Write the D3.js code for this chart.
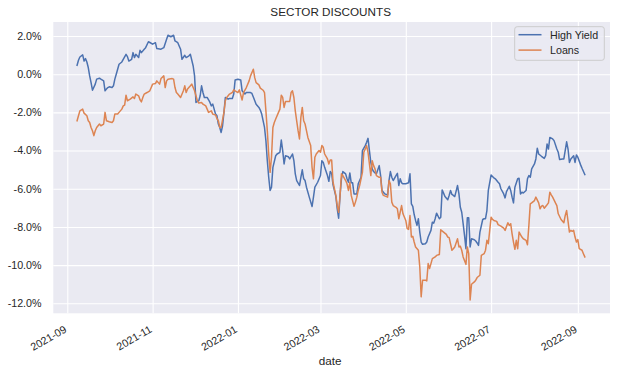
<!DOCTYPE html>
<html>
<head>
<meta charset="utf-8">
<script src="https://cdn.jsdelivr.net/npm/d3@7"></script>
<style>
  html, body { margin: 0; padding: 0; background: #ffffff; }
  svg { display: block; }
  text { font-family: "Liberation Sans", Arial, sans-serif; fill: #262626; }
</style>
</head>
<body>
<svg id="chart" width="622" height="374"></svg>
<script>
// ---------------- data ----------------
const chartTitle = "SECTOR DISCOUNTS";
const xLabel = "date";
const seriesNames = ["High Yield", "Loans"];
const seriesColors = ["#4C72B0", "#DD8452"];

const hyDates = ["2021-09-08","2021-09-09","2021-09-10","2021-09-12","2021-09-13","2021-09-14","2021-09-15","2021-09-16","2021-09-17","2021-09-18","2021-09-19","2021-09-21","2021-09-22","2021-09-24","2021-09-25","2021-09-27","2021-09-28","2021-09-29","2021-09-30","2021-10-01","2021-10-03","2021-10-04","2021-10-05","2021-10-06","2021-10-08","2021-10-10","2021-10-11","2021-10-13","2021-10-14","2021-10-15","2021-10-17","2021-10-18","2021-10-19","2021-10-20","2021-10-22","2021-10-23","2021-10-24","2021-10-26","2021-10-27","2021-10-29","2021-10-31","2021-11-01","2021-11-03","2021-11-04","2021-11-07","2021-11-09","2021-11-11","2021-11-12","2021-11-14","2021-11-16","2021-11-17","2021-11-19","2021-11-21","2021-11-22","2021-11-24","2021-11-25","2021-11-27","2021-11-28","2021-11-30","2021-12-01","2021-12-02","2021-12-04","2021-12-05","2021-12-06","2021-12-07","2021-12-08","2021-12-10","2021-12-11","2021-12-12","2021-12-13","2021-12-14","2021-12-16","2021-12-17","2021-12-18","2021-12-19","2021-12-20","2021-12-21","2021-12-22","2021-12-23","2021-12-25","2021-12-26","2021-12-28","2021-12-29","2021-12-30","2022-01-01","2022-01-03","2022-01-04","2022-01-06","2022-01-07","2022-01-10","2022-01-11","2022-01-12","2022-01-14","2022-01-16","2022-01-17","2022-01-18","2022-01-20","2022-01-21","2022-01-22","2022-01-23","2022-01-24","2022-01-25","2022-01-26","2022-01-28","2022-01-29","2022-01-31","2022-02-01","2022-02-02","2022-02-03","2022-02-04","2022-02-06","2022-02-07","2022-02-09","2022-02-10","2022-02-11","2022-02-12","2022-02-14","2022-02-15","2022-02-16","2022-02-17","2022-02-18","2022-02-19","2022-02-21","2022-02-23","2022-02-24","2022-02-25","2022-02-27","2022-03-01","2022-03-02","2022-03-03","2022-03-04","2022-03-06","2022-03-07","2022-03-08","2022-03-09","2022-03-10","2022-03-12","2022-03-13","2022-03-14","2022-03-15","2022-03-16","2022-03-17","2022-03-19","2022-03-20","2022-03-21","2022-03-22","2022-03-23","2022-03-24","2022-03-25","2022-03-27","2022-03-28","2022-03-30","2022-03-31","2022-04-02","2022-04-03","2022-04-04","2022-04-05","2022-04-06","2022-04-07","2022-04-08","2022-04-09","2022-04-10","2022-04-12","2022-04-13","2022-04-14","2022-04-15","2022-04-16","2022-04-18","2022-04-19","2022-04-20","2022-04-21","2022-04-22","2022-04-24","2022-04-25","2022-04-26","2022-04-27","2022-04-28","2022-04-29","2022-05-01","2022-05-03","2022-05-04","2022-05-05","2022-05-06","2022-05-07","2022-05-08","2022-05-09","2022-05-10","2022-05-11","2022-05-12","2022-05-13","2022-05-15","2022-05-16","2022-05-17","2022-05-19","2022-05-20","2022-05-21","2022-05-22","2022-05-23","2022-05-25","2022-05-26","2022-05-27","2022-05-28","2022-05-29","2022-05-31","2022-06-01","2022-06-02","2022-06-03","2022-06-04","2022-06-05","2022-06-07","2022-06-08","2022-06-09","2022-06-10","2022-06-11","2022-06-12","2022-06-13","2022-06-14","2022-06-15","2022-06-16","2022-06-17","2022-06-19","2022-06-20","2022-06-21","2022-06-22","2022-06-23","2022-06-25","2022-06-26","2022-06-27","2022-06-28","2022-06-29","2022-07-01","2022-07-02","2022-07-03","2022-07-04","2022-07-06","2022-07-07","2022-07-08","2022-07-10","2022-07-11","2022-07-12","2022-07-14","2022-07-15","2022-07-16","2022-07-17","2022-07-18","2022-07-20","2022-07-21","2022-07-22","2022-07-23","2022-07-24","2022-07-26","2022-07-27","2022-07-28","2022-07-29","2022-07-30","2022-08-01","2022-08-02","2022-08-03","2022-08-04","2022-08-06","2022-08-08","2022-08-09","2022-08-10","2022-08-11","2022-08-12","2022-08-14","2022-08-15","2022-08-17","2022-08-18","2022-08-19","2022-08-21","2022-08-22","2022-08-24","2022-08-25","2022-08-26","2022-08-27","2022-08-29","2022-08-30","2022-08-31","2022-09-01","2022-09-03","2022-09-04","2022-09-06"];
const hyValues = [0.47,0.73,0.90,1.01,0.69,0.82,0.64,0.35,-0.09,-0.44,-0.84,-0.52,-0.26,-0.21,-0.26,-0.35,-0.87,-0.78,-0.70,-0.66,-0.70,-0.61,-0.26,0.00,0.52,0.64,0.78,1.04,0.92,0.69,0.78,1.13,0.87,1.04,0.87,1.25,1.13,1.31,1.39,1.70,1.62,1.57,1.65,1.34,1.31,1.39,1.83,2.04,1.96,2.04,1.74,1.65,1.31,0.78,0.99,0.87,0.96,1.04,0.43,-0.09,-1.48,-1.39,-1.13,-0.61,-0.96,-1.22,-1.22,-1.34,-1.48,-1.66,-1.57,-2.09,-2.18,-2.61,-2.79,-3.05,-2.70,-2.00,-1.22,-1.31,-1.27,-1.27,-1.04,-0.30,-0.26,-0.30,-0.87,-1.04,-0.96,-0.96,-1.01,-1.19,-1.57,-1.74,-1.88,-2.09,-2.79,-3.48,-4.53,-5.40,-6.09,-5.92,-4.88,-4.27,-4.18,-4.09,-3.45,-4.00,-4.70,-4.27,-4.32,-4.44,-4.18,-4.53,-5.22,-5.57,-5.83,-5.40,-5.01,-5.48,-5.57,-5.92,-6.44,-6.93,-6.44,-5.92,-5.66,-5.31,-4.53,-4.62,-4.88,-5.31,-5.61,-5.10,-5.20,-5.80,-6.40,-7.05,-7.54,-6.35,-5.48,-5.10,-5.22,-5.48,-5.66,-5.17,-5.69,-5.69,-6.27,-6.27,-5.74,-5.40,-4.00,-3.74,-3.57,-3.36,-4.00,-4.62,-4.96,-5.10,-5.17,-5.22,-4.79,-5.31,-6.09,-6.18,-6.27,-6.33,-5.57,-5.10,-5.40,-5.57,-5.31,-5.19,-5.83,-5.48,-5.69,-5.74,-5.74,-5.69,-5.22,-6.79,-6.92,-7.35,-7.66,-7.92,-7.57,-8.27,-8.79,-8.91,-8.88,-8.79,-8.53,-8.18,-7.75,-7.80,-7.57,-7.28,-7.57,-7.49,-6.06,-6.23,-6.41,-6.58,-6.35,-6.09,-6.30,-6.35,-6.41,-5.83,-6.27,-6.97,-7.23,-7.83,-8.44,-9.14,-7.52,-7.52,-9.05,-8.62,-8.67,-8.74,-8.84,-8.97,-8.27,-7.61,-7.57,-7.57,-7.14,-6.09,-5.28,-5.36,-5.43,-5.48,-5.66,-5.74,-6.00,-6.27,-6.48,-6.15,-5.87,-6.09,-6.44,-6.74,-5.92,-5.48,-5.45,-6.27,-6.18,-6.22,-6.09,-5.48,-5.31,-5.40,-4.96,-4.70,-4.44,-3.88,-4.18,-4.30,-4.41,-4.27,-3.66,-3.92,-3.31,-3.39,-3.48,-3.92,-4.09,-4.47,-4.44,-4.44,-3.54,-3.92,-4.62,-4.44,-4.27,-4.62,-4.23,-4.35,-4.75,-4.93,-5.26];

const loanDates = ["2021-09-08","2021-09-09","2021-09-10","2021-09-12","2021-09-13","2021-09-15","2021-09-16","2021-09-17","2021-09-18","2021-09-19","2021-09-20","2021-09-21","2021-09-22","2021-09-24","2021-09-25","2021-09-27","2021-09-28","2021-09-29","2021-10-01","2021-10-03","2021-10-04","2021-10-05","2021-10-07","2021-10-08","2021-10-10","2021-10-11","2021-10-12","2021-10-13","2021-10-14","2021-10-16","2021-10-18","2021-10-19","2021-10-20","2021-10-22","2021-10-23","2021-10-24","2021-10-25","2021-10-26","2021-10-28","2021-10-30","2021-10-31","2021-11-01","2021-11-03","2021-11-04","2021-11-06","2021-11-07","2021-11-09","2021-11-10","2021-11-11","2021-11-12","2021-11-15","2021-11-16","2021-11-17","2021-11-18","2021-11-19","2021-11-21","2021-11-23","2021-11-24","2021-11-25","2021-11-26","2021-11-28","2021-11-29","2021-11-30","2021-12-01","2021-12-02","2021-12-03","2021-12-04","2021-12-06","2021-12-07","2021-12-09","2021-12-10","2021-12-11","2021-12-13","2021-12-14","2021-12-16","2021-12-17","2021-12-18","2021-12-19","2021-12-20","2021-12-22","2021-12-23","2021-12-24","2021-12-25","2021-12-26","2021-12-28","2021-12-29","2021-12-30","2022-01-01","2022-01-02","2022-01-04","2022-01-05","2022-01-07","2022-01-09","2022-01-10","2022-01-12","2022-01-13","2022-01-14","2022-01-16","2022-01-17","2022-01-19","2022-01-20","2022-01-21","2022-01-22","2022-01-23","2022-01-24","2022-01-25","2022-01-26","2022-01-27","2022-01-28","2022-01-30","2022-01-31","2022-02-01","2022-02-02","2022-02-03","2022-02-04","2022-02-06","2022-02-07","2022-02-08","2022-02-09","2022-02-10","2022-02-11","2022-02-12","2022-02-13","2022-02-14","2022-02-15","2022-02-16","2022-02-17","2022-02-18","2022-02-19","2022-02-20","2022-02-22","2022-02-23","2022-02-24","2022-02-25","2022-02-26","2022-02-28","2022-03-01","2022-03-02","2022-03-03","2022-03-04","2022-03-06","2022-03-07","2022-03-08","2022-03-09","2022-03-10","2022-03-12","2022-03-13","2022-03-14","2022-03-15","2022-03-16","2022-03-17","2022-03-19","2022-03-20","2022-03-21","2022-03-22","2022-03-23","2022-03-25","2022-03-26","2022-03-27","2022-03-28","2022-03-29","2022-03-31","2022-04-01","2022-04-02","2022-04-03","2022-04-04","2022-04-06","2022-04-07","2022-04-08","2022-04-09","2022-04-10","2022-04-12","2022-04-13","2022-04-14","2022-04-15","2022-04-18","2022-04-19","2022-04-20","2022-04-21","2022-04-22","2022-04-24","2022-04-25","2022-04-26","2022-04-27","2022-04-28","2022-04-29","2022-05-01","2022-05-02","2022-05-03","2022-05-04","2022-05-05","2022-05-06","2022-05-07","2022-05-08","2022-05-10","2022-05-11","2022-05-12","2022-05-13","2022-05-15","2022-05-16","2022-05-17","2022-05-18","2022-05-19","2022-05-20","2022-05-22","2022-05-23","2022-05-25","2022-05-26","2022-05-28","2022-05-30","2022-05-31","2022-06-01","2022-06-03","2022-06-04","2022-06-05","2022-06-07","2022-06-08","2022-06-09","2022-06-10","2022-06-11","2022-06-13","2022-06-14","2022-06-15","2022-06-16","2022-06-17","2022-06-19","2022-06-20","2022-06-21","2022-06-23","2022-06-24","2022-06-26","2022-06-27","2022-06-28","2022-06-29","2022-07-01","2022-07-02","2022-07-03","2022-07-05","2022-07-06","2022-07-08","2022-07-10","2022-07-11","2022-07-13","2022-07-14","2022-07-15","2022-07-16","2022-07-17","2022-07-18","2022-07-19","2022-07-20","2022-07-21","2022-07-23","2022-07-24","2022-07-26","2022-07-27","2022-07-28","2022-07-29","2022-07-30","2022-08-01","2022-08-02","2022-08-04","2022-08-05","2022-08-06","2022-08-07","2022-08-08","2022-08-10","2022-08-11","2022-08-12","2022-08-13","2022-08-14","2022-08-16","2022-08-17","2022-08-18","2022-08-20","2022-08-22","2022-08-23","2022-08-24","2022-08-26","2022-08-27","2022-08-28","2022-08-29","2022-08-30","2022-08-31","2022-09-01","2022-09-02","2022-09-04","2022-09-05","2022-09-06"];
const loanValues = [-2.44,-2.18,-1.92,-1.83,-2.04,-2.18,-2.44,-2.53,-2.79,-2.96,-3.22,-2.96,-2.79,-2.61,-2.70,-2.61,-2.00,-2.44,-2.49,-2.53,-2.44,-2.09,-2.09,-2.00,-1.83,-1.66,-1.62,-1.10,-1.39,-1.31,-1.19,-1.27,-1.04,-1.13,-1.34,-1.45,-1.22,-1.04,-0.96,-0.87,-0.70,-0.52,-0.49,-0.35,-0.52,-0.23,-0.09,-0.70,-0.35,-0.26,-0.23,-0.26,-0.70,-0.96,-1.04,-1.22,-0.87,-0.61,-0.96,-0.78,-0.61,-0.52,-0.70,-0.87,-1.13,-1.39,-1.51,-1.48,-1.57,-1.66,-1.83,-2.00,-1.92,-2.09,-2.14,-2.32,-2.44,-2.79,-2.79,-2.00,-1.39,-1.22,-1.13,-1.04,-0.96,-0.82,-0.87,-0.96,-0.82,-1.35,-0.96,-0.70,-0.35,-0.09,0.26,-0.18,-0.44,-0.56,-0.73,-0.84,-0.96,-1.92,-2.96,-4.18,-5.14,-4.35,-2.79,-2.53,-2.35,-2.00,-1.83,-1.10,-1.22,-1.74,-1.43,-1.43,-1.43,-0.96,-0.87,-1.22,-1.92,-2.44,-2.96,-3.39,-2.26,-1.74,-2.44,-2.61,-2.96,-3.31,-3.74,-4.88,-5.48,-4.35,-4.18,-4.00,-4.09,-3.74,-3.83,-4.18,-4.44,-4.70,-4.50,-4.50,-5.66,-6.35,-6.88,-7.23,-6.35,-5.22,-5.31,-5.57,-5.74,-6.09,-5.66,-6.35,-6.92,-6.70,-6.44,-6.09,-5.83,-5.14,-4.09,-3.92,-3.74,-4.09,-5.31,-4.53,-4.79,-4.96,-5.31,-5.40,-5.40,-6.18,-6.35,-6.44,-5.57,-5.74,-6.70,-6.88,-6.97,-7.05,-7.57,-7.23,-6.88,-7.31,-7.66,-8.09,-8.13,-7.40,-8.53,-8.49,-8.79,-9.05,-9.22,-10.09,-11.66,-10.79,-10.79,-10.83,-9.92,-10.18,-9.92,-9.66,-9.57,-9.49,-9.44,-8.15,-8.27,-8.39,-8.53,-8.56,-9.22,-9.14,-9.05,-8.62,-9.05,-9.01,-9.22,-9.57,-9.96,-9.05,-9.40,-11.83,-11.00,-10.88,-10.79,-10.65,-10.53,-9.49,-9.40,-9.22,-8.70,-8.88,-7.49,-7.61,-7.66,-7.71,-7.88,-7.96,-8.06,-8.18,-7.78,-7.92,-7.83,-8.36,-8.79,-9.17,-8.70,-9.14,-8.27,-8.53,-8.62,-8.70,-8.93,-7.92,-6.79,-6.74,-6.62,-6.44,-6.74,-7.05,-6.91,-6.88,-7.02,-6.84,-6.74,-6.18,-6.32,-6.44,-6.74,-6.88,-7.31,-7.61,-7.78,-7.40,-7.14,-8.27,-8.18,-8.23,-8.18,-8.53,-8.79,-8.66,-9.14,-9.22,-9.40,-9.57];

const xTickDates = ["2021-09-01","2021-11-01","2022-01-01","2022-03-01","2022-05-01","2022-07-01","2022-09-01"];
const xTickLabels = ["2021-09","2021-11","2022-01","2022-03","2022-05","2022-07","2022-09"];
const yTickValues = [2, 0, -2, -4, -6, -8, -10, -12];
const yTickLabels = ["2.0%","0.0%","-2.0%","-4.0%","-6.0%","-8.0%","-10.0%","-12.0%"];
const xDomainDates = ["2021-08-22", "2022-09-24"];

// ---------------- drawing ----------------
const parse = d3.timeParse("%Y-%m-%d");
const W = 622, H = 374;
const plot = { left: 53.3, right: 610, top: 22, bottom: 313.3 };

const svg = d3.select("#chart");

const series = [
  { name: seriesNames[0], color: seriesColors[0], pts: hyDates.map((d, i) => ({ t: parse(d), v: hyValues[i] })) },
  { name: seriesNames[1], color: seriesColors[1], pts: loanDates.map((d, i) => ({ t: parse(d), v: loanValues[i] })) }
];

const x = d3.scaleTime()
  .domain(xDomainDates.map(parse))
  .range([plot.left, plot.right]);

const allV = hyValues.concat(loanValues);
const vMin = d3.min(allV), vMax = d3.max(allV);
const pad = (vMax - vMin) * 0.05;
const y = d3.scaleLinear()
  .domain([vMin - pad, vMax + pad])
  .range([plot.bottom, plot.top]);

// background
svg.append("rect")
  .attr("x", plot.left).attr("y", plot.top)
  .attr("width", plot.right - plot.left).attr("height", plot.bottom - plot.top)
  .attr("fill", "#EAEAF2");

// grid via axes
const xTicks = xTickDates.map(parse);
const gx = svg.append("g")
  .attr("transform", `translate(0,${plot.bottom})`)
  .call(d3.axisBottom(x).tickValues(xTicks).tickSize(-(plot.bottom - plot.top)).tickFormat(""));
gx.select(".domain").remove();
gx.selectAll(".tick line").attr("stroke", "#ffffff").attr("stroke-width", 1.1);

const gy = svg.append("g")
  .attr("transform", `translate(${plot.left},0)`)
  .call(d3.axisLeft(y).tickValues(yTickValues).tickSize(-(plot.right - plot.left)).tickFormat(""));
gy.select(".domain").remove();
gy.selectAll(".tick line").attr("stroke", "#ffffff").attr("stroke-width", 1.1);

// tick labels
svg.append("g").selectAll("text")
  .data(yTickValues)
  .join("text")
  .attr("x", 41.5)
  .attr("y", d => y(d))
  .attr("dy", "0.36em")
  .attr("text-anchor", "end")
  .attr("font-size", "10.7px")
  .text((d, i) => yTickLabels[i]);

svg.append("g").selectAll("text")
  .data(xTicks)
  .join("text")
  .attr("transform", d => `translate(${x(d)},331.5) rotate(-30)`)
  .attr("text-anchor", "end")
  .attr("font-size", "10.7px")
  .text((d, i) => xTickLabels[i]);

// clip for lines
svg.append("clipPath").attr("id", "clip")
  .append("rect")
  .attr("x", plot.left).attr("y", plot.top)
  .attr("width", plot.right - plot.left).attr("height", plot.bottom - plot.top);

const line = d3.line().x(d => x(d.t)).y(d => y(d.v));
svg.append("g").attr("clip-path", "url(#clip)")
  .selectAll("path")
  .data(series)
  .join("path")
  .attr("d", d => line(d.pts))
  .attr("fill", "none")
  .attr("stroke", d => d.color)
  .attr("stroke-width", 1.5)
  .attr("stroke-linejoin", "round")
  .attr("stroke-linecap", "square");

// title and axis label
svg.append("text")
  .attr("x", (plot.left + plot.right) / 2 - 1)
  .attr("y", 15.5)
  .attr("text-anchor", "middle")
  .attr("font-size", "11.7px")
  .text(chartTitle);

svg.append("text")
  .attr("x", (plot.left + plot.right) / 2 - 1.5)
  .attr("y", 365)
  .attr("text-anchor", "middle")
  .attr("font-size", "11.7px")
  .text(xLabel);

// legend
const lg = svg.append("g");
lg.append("rect")
  .attr("x", 514.7).attr("y", 26.7)
  .attr("width", 89.6).attr("height", 33.6)
  .attr("rx", 2.5).attr("ry", 2.5)
  .attr("fill", "#EAEAF2").attr("fill-opacity", 0.8)
  .attr("stroke", "#CCCCCC").attr("stroke-width", 1);
const legRows = lg.selectAll("g.row").data(series).join("g")
  .attr("class", "row")
  .attr("transform", (d, i) => `translate(0,${34.7 + i * 15.4})`);
legRows.append("line")
  .attr("x1", 518.5).attr("x2", 541.5)
  .attr("y1", 0).attr("y2", 0)
  .attr("stroke", d => d.color).attr("stroke-width", 1.5);
legRows.append("text")
  .attr("x", 550).attr("y", 0).attr("dy", "0.36em")
  .attr("font-size", "10.7px")
  .text(d => d.name);
</script>
</body>
</html>
